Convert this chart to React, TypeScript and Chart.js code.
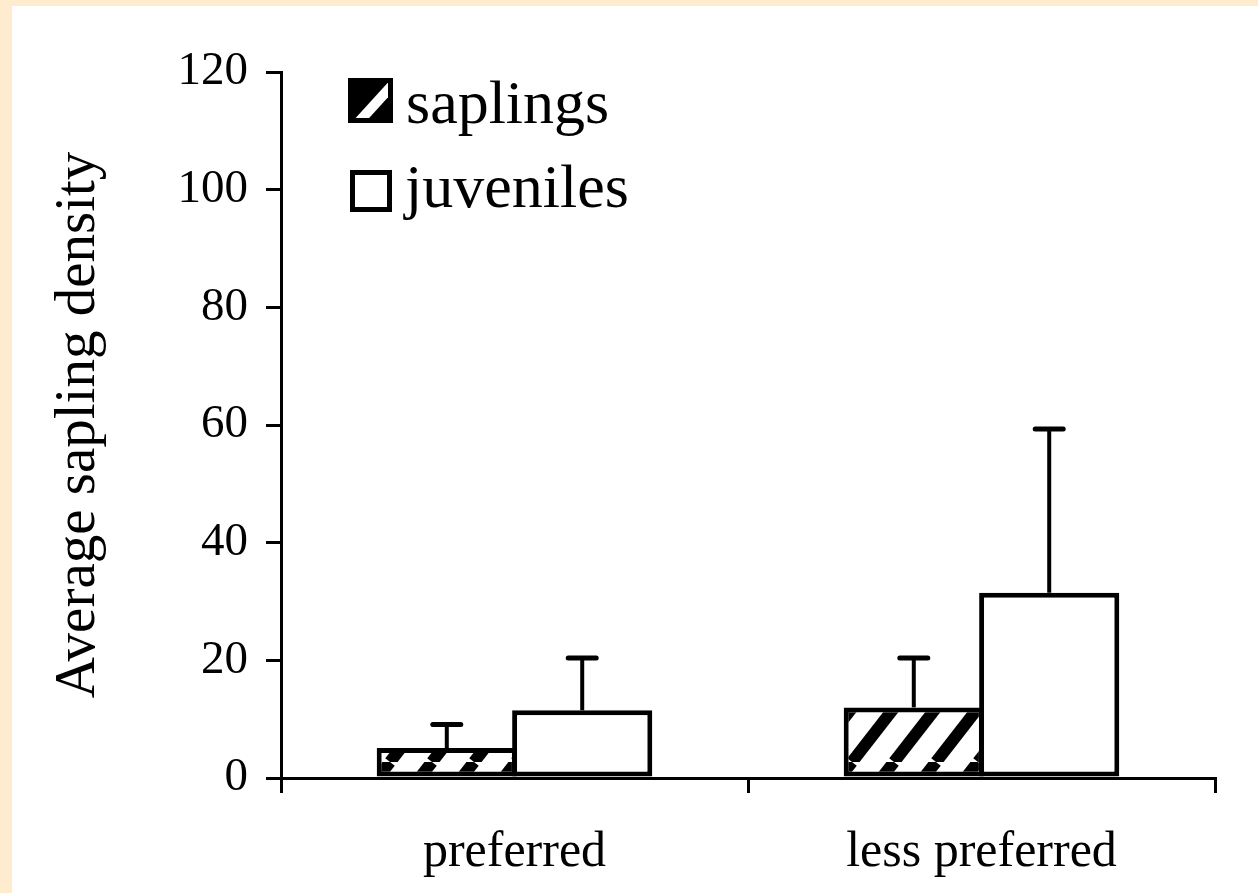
import React, { useEffect, useRef } from "react";
import { Chart, registerables } from "chart.js";

Chart.register(...registerables);

const categories = ["preferred", "less preferred"];
const seriesNames = ["saplings", "juveniles"];
const saplings = [5.1, 12.0];
const juveniles = [11.5, 31.5];
const saplingsErr = [4.0, 8.4];
const juvenilesErr = [8.9, 27.8];
const yTicks = [0, 20, 40, 60, 80, 100, 120];
const yTitle = "Average sapling density";

const FONT = "'Liberation Serif', 'Times New Roman', serif";

function makeHatch(): CanvasPattern | string {
  const W = 42, H = 54;
  const c = document.createElement("canvas");
  c.width = W;
  c.height = H;
  const g = c.getContext("2d");
  if (!g) return "#888";
  g.fillStyle = "#fff";
  g.fillRect(0, 0, W, H);
  g.strokeStyle = "#000";
  g.lineWidth = 12;
  for (let k = -1; k <= 1; k++) {
    g.beginPath();
    g.moveTo(k * W, H);
    g.lineTo((k + 1) * W, 0);
    g.stroke();
  }
  return g.createPattern(c, "repeat") || "#888";
}

const errorBarPlugin = {
  id: "errorBars",
  afterDatasetsDraw(chart: any) {
    const ctx = chart.ctx;
    const y = chart.scales.y;
    const errs = [saplingsErr, juvenilesErr];
    chart.data.datasets.forEach((ds: any, di: number) => {
      const meta = chart.getDatasetMeta(di);
      meta.data.forEach((bar: any, i: number) => {
        const v = ds.data[i] as number;
        const top = y.getPixelForValue(v + errs[di][i]);
        ctx.save();
        ctx.strokeStyle = "#000";
        ctx.lineWidth = 4;
        ctx.beginPath();
        ctx.moveTo(bar.x, bar.y);
        ctx.lineTo(bar.x, top);
        ctx.stroke();
        ctx.lineWidth = 5;
        ctx.lineCap = "round";
        ctx.beginPath();
        ctx.moveTo(bar.x - 14, top);
        ctx.lineTo(bar.x + 14, top);
        ctx.stroke();
        ctx.restore();
      });
    });
  },
};

const legendPlugin = {
  id: "innerLegend",
  afterDraw(chart: any) {
    const ctx = chart.ctx;
    ctx.save();
    // saplings icon
    const x0 = 336, y0 = 72, s = 45;
    ctx.fillStyle = "#000";
    ctx.fillRect(x0, y0, s, s);
    ctx.save();
    ctx.beginPath();
    ctx.rect(x0 + 5, y0 + 5, s - 10, s - 10);
    ctx.clip();
    ctx.strokeStyle = "#fff";
    ctx.lineWidth = 10;
    ctx.beginPath();
    ctx.moveTo(x0 + 8, y0 + s + 2);
    ctx.lineTo(x0 + s + 4, y0 + 2);
    ctx.stroke();
    ctx.restore();
    // juveniles icon
    const x1 = 338, y1 = 164, s1 = 42;
    ctx.fillStyle = "#fff";
    ctx.fillRect(x1, y1, s1, s1);
    ctx.strokeStyle = "#000";
    ctx.lineWidth = 5;
    ctx.strokeRect(x1 + 2.5, y1 + 2.5, s1 - 5, s1 - 5);
    ctx.fillStyle = "#000";
    ctx.font = `62px ${FONT}`;
    ctx.textBaseline = "alphabetic";
    ctx.textAlign = "left";
    ctx.fillText(seriesNames[0], 394, 117);
    ctx.fillText(seriesNames[1], 393, 201);
    ctx.restore();
  },
};

export default function App() {
  const ref = useRef<HTMLCanvasElement | null>(null);
  useEffect(() => {
    if (!ref.current) return;
    const hatch = makeHatch();
    const chart = new Chart(ref.current, {
      type: "bar",
      data: {
        labels: categories,
        datasets: [
          {
            label: seriesNames[0],
            data: saplings,
            backgroundColor: hatch as any,
            borderColor: "#000",
            borderWidth: 5,
            borderSkipped: false,
            categoryPercentage: 0.58,
            barPercentage: 1.035,
          },
          {
            label: seriesNames[1],
            data: juveniles,
            backgroundColor: "#fff",
            borderColor: "#000",
            borderWidth: 5,
            borderSkipped: false,
            categoryPercentage: 0.58,
            barPercentage: 1.035,
          },
        ],
      },
      options: {
        animation: false,
        responsive: false,
        layout: { padding: { top: 66, right: 43, left: 0, bottom: 0 } },
        font: { family: FONT },
        plugins: {
          legend: { display: false },
          tooltip: { enabled: false },
        },
        scales: {
          x: {
            type: "category",
            offset: true,
            grid: {
              display: true,
              drawOnChartArea: false,
              offset: true,
              tickLength: 15,
              color: "#000",
              lineWidth: 3,
            },
            border: { display: true, color: "#000", width: 3 },
            ticks: { color: "#000", font: { size: 50, family: FONT }, padding: 30 },
            afterFit: (s: any) => {
              s.height = 115;
            },
          },
          y: {
            min: 0,
            max: 120,
            afterBuildTicks: (s: any) => {
              s.ticks = yTicks.map((v) => ({ value: v }));
            },
            ticks: { color: "#000", font: { size: 47, family: FONT }, padding: 18 },
            grid: { drawOnChartArea: false, tickLength: 15, color: "#000", lineWidth: 3 },
            border: { color: "#000", width: 3 },
            title: {
              display: true,
              text: yTitle,
              color: "#000",
              font: { size: 57, family: FONT },
              padding: { top: 33, bottom: 0 },
            },
            afterFit: (s: any) => {
              s.width = 269;
            },
          },
        },
      } as any,
      plugins: [errorBarPlugin, legendPlugin],
    });
    return () => chart.destroy();
  }, []);

  return (
    <div style={{ position: "fixed", left: 0, top: 0, width: 1258, height: 893, background: "#FFEBCD", overflow: "hidden" }}>
      <div style={{ position: "absolute", left: 12, top: 6, width: 1246, height: 887, background: "#fff" }}>
        <canvas ref={ref} width={1246} height={887} style={{ width: 1246, height: 887, display: "block" }} />
      </div>
    </div>
  );
}
